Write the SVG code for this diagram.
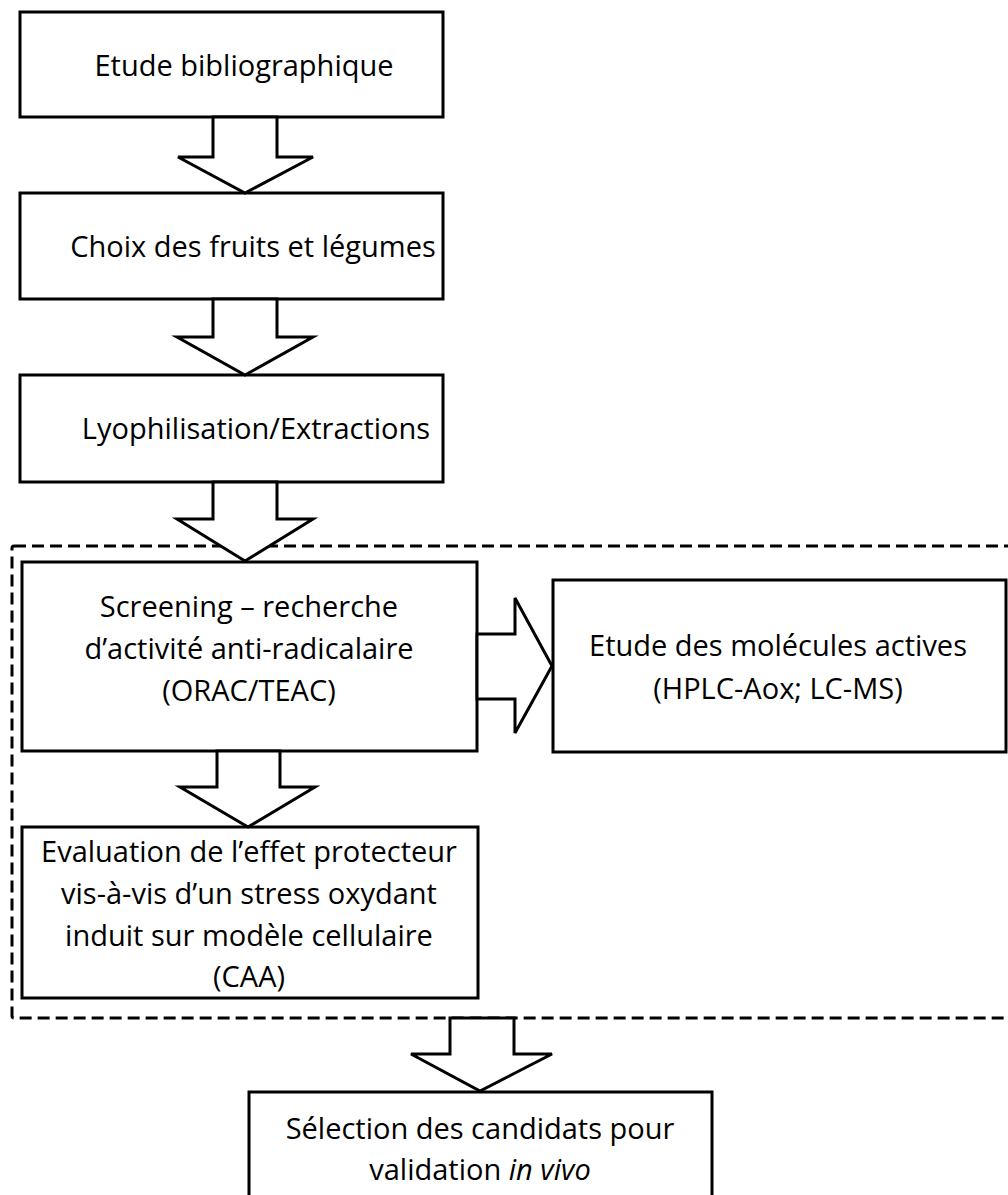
<svg xmlns="http://www.w3.org/2000/svg" width="1008" height="1195" viewBox="0 0 1008 1195">
<style>
.box{fill:#fff;stroke:#000;stroke-width:3}
.arr{fill:#fff;stroke:#000;stroke-width:3;stroke-linejoin:miter}
.dash{fill:none;stroke:#000;stroke-width:3;stroke-dasharray:12 6}
text{font-family:"Open Sans","Liberation Sans",sans-serif;font-size:29px;fill:#000;text-anchor:middle}
</style>
<rect width="1008" height="1195" fill="#fff"/>
<g id="group-dashed"><rect class="dash" x="12" y="546" width="1000" height="472" rx="2"/></g>
<g id="n1"><rect class="box" x="20" y="12" width="423" height="105"/><text x="244" y="76">Etude bibliographique</text></g>
<g id="n2"><rect class="box" x="20" y="193" width="423" height="106"/><text x="253" y="257">Choix des fruits et légumes</text></g>
<g id="n3"><rect class="box" x="20" y="375" width="423" height="107"/><text x="256" y="439">Lyophilisation/Extractions</text></g>
<g id="n4"><rect class="box" x="22" y="562" width="455" height="189"/><text x="249" y="617">Screening – recherche</text><text x="249" y="659">d’activité anti-radicalaire</text><text x="249" y="701">(ORAC/TEAC)</text></g>
<g id="n5"><rect class="box" x="553" y="580" width="453" height="172"/><text x="778" y="656">Etude des molécules actives</text><text x="778" y="699">(HPLC-Aox; LC-MS)</text></g>
<g id="n6"><rect class="box" x="22" y="827" width="456" height="171"/><text x="249" y="862">Evaluation de l’effet protecteur</text><text x="249" y="904">vis-à-vis d’un stress oxydant</text><text x="249" y="946">induit sur modèle cellulaire</text><text x="249" y="987">(CAA)</text></g>
<g id="n7"><rect class="box" x="249" y="1092" width="463" height="120"/><text x="480" y="1139">Sélection des candidats pour</text><text x="480" y="1180">validation <tspan font-style="italic">in vivo</tspan></text></g>
<g id="connectors">
<polygon class="arr" points="213,117 277,117 277,157 313,157 245,193 178,157 213,157"/>
<polygon class="arr" points="213,299 277,299 277,337 313,337 245,375 177,337 213,337"/>
<polygon class="arr" points="213,482 277,482 277,519 313,519 245,561 177,519 213,519"/>
<polygon class="arr" points="477,634 515,634 515,598 552,666 515,733 515,699 477,699"/>
<polygon class="arr" points="217,751 280,751 280,787 315,787 248,827 180,787 217,787"/>
<polygon class="arr" points="450,1018 514,1018 514,1054 552,1054 480,1091 411,1054 450,1054"/>
</g>
</svg>
